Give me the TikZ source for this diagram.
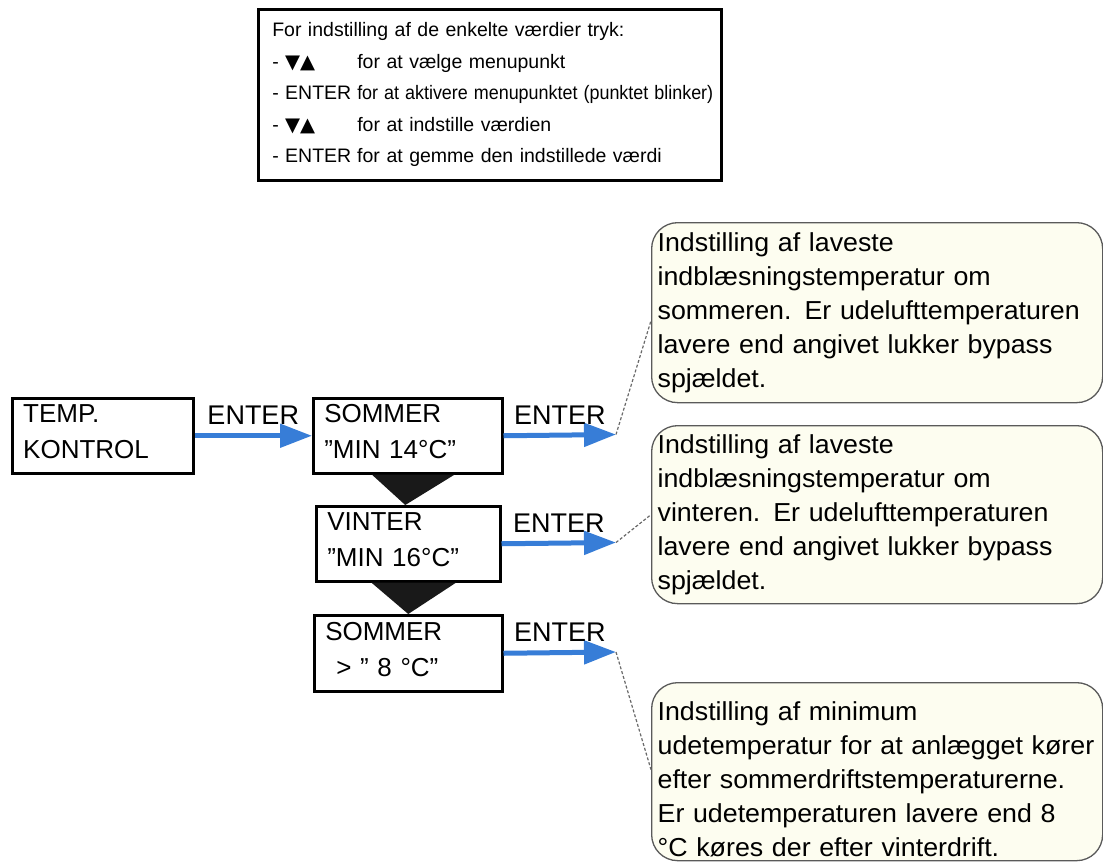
\documentclass[tikz,border=0pt]{standalone}
\usepackage{graphicx}
\usepackage{fontspec}
\setmainfont{Liberation Sans}
\newfontfamily\callfont[FakeStretch=1.03]{Liberation Sans}
\newfontfamily\symfont{DejaVu Sans}
\usetikzlibrary{arrows.meta}
\definecolor{arrblue}{RGB}{55,125,215}
\definecolor{callfill}{RGB}{253,253,240}
\definecolor{callline}{RGB}{90,90,90}
\definecolor{leadgray}{RGB}{105,105,105}
\newcommand{\lowfix}{\rule[-8pt]{0pt}{8pt}}
\begin{document}
\begin{tikzpicture}[x=1pt,y=-1pt,
  menubox/.style={draw=black, line width=2.5pt, fill=white, anchor=north west,
    align=left, inner xsep=11pt, inner ysep=0pt, minimum height=75pt,
    font=\fontsize{26}{36}\selectfont},
  infobox/.style={draw=black, line width=2.5pt, fill=white, anchor=north west,
    align=left, inner xsep=14pt, inner ysep=0pt,
    font=\fontsize{19.5}{31.5}\selectfont},
  callout/.style={draw=callline, line width=1.3pt, fill=callfill, rounded corners=26pt,
    anchor=north west, align=left, inner xsep=6pt, inner ysep=0pt,
    font=\callfont\fontsize{26}{34}\selectfont},
  flow/.style={draw=arrblue, line width=5pt, -{Triangle[length=32pt,width=23pt]}},
  enterlbl/.style={anchor=base, yshift=11pt, font=\fontsize{27}{30}\selectfont, text=black},
  leader/.style={draw=leadgray, line width=1.2pt, dash pattern=on 3pt off 2pt},
  nexttri/.style={fill=black!90}
]
\useasboundingbox (0,0) rectangle (1103,863);

% instruction box
\node[infobox, minimum width=463pt, minimum height=171pt, text width=435pt] (info) at (257,8)
 {\mbox{For indstilling af de enkelte værdier tryk:}\\
  \mbox{\makebox[85pt][l]{- {\symfont ▼▲}}for at vælge menupunkt}\\
  \mbox{\makebox[85pt][l]{- ENTER}\scalebox{0.92}[1]{for at aktivere menupunktet (punktet blinker)}}\\
  \mbox{\makebox[85pt][l]{- {\symfont ▼▲}}for at indstille værdien}\\
  \mbox{\makebox[85pt][l]{- ENTER}for at gemme den indstillede værdi}};

% menu boxes
\node[menubox, minimum width=181pt, text width=159pt] (temp) at (11,397) {TEMP.\\KONTROL\lowfix};
\node[menubox, minimum width=189pt, text width=167pt] (som1) at (312,397) {SOMMER\\”MIN 14°C”\lowfix};
\node[menubox, minimum width=184pt, text width=162pt] (vin) at (315,505) {VINTER\\”MIN 16°C”\lowfix};
\node[menubox, minimum width=188pt, minimum height=76pt, text width=166pt] (som2) at (313,614) {SOMMER\\\hspace*{11pt}> ” 8 °C”\lowfix};

% callouts
\node[callout, minimum width=451pt, minimum height=180pt, text width=439pt] (c1) at (651,222)
 {Indstilling af laveste\\
  indblæsningstemperatur om\\
  \mbox{sommeren. Er udelufttemperaturen}\\
  \mbox{lavere end angivet lukker bypass}\\
  spjældet.};
\node[callout, minimum width=451pt, minimum height=178pt, text width=439pt] (c2) at (651,425)
 {Indstilling af laveste\\
  indblæsningstemperatur om\\
  \mbox{vinteren. Er udelufttemperaturen}\\
  \mbox{lavere end angivet lukker bypass}\\
  spjældet.};
\node[callout, minimum width=451pt, minimum height=178pt, text width=439pt] (c3) at (651,682)
 {\rule{0pt}{35pt}Indstilling af minimum\\
  \mbox{udetemperatur for at anlægget kører}\\
  \mbox{efter sommerdriftstemperaturerne.}\\
  \mbox{Er udetemperaturen lavere end 8}\\
  °C køres der efter vinterdrift.};

% arrow tips
\coordinate (t1) at (616,434.5);
\coordinate (t2) at (616,542.5);
\coordinate (t3) at (616,652);

% flow arrows
\draw[flow] (temp.east) -- node[enterlbl]{ENTER} (som1.west);
\draw[flow] (som1.east) -- node[enterlbl]{ENTER} (t1);
\draw[flow] (vin.east) -- node[enterlbl]{ENTER} (t2);
\draw[flow] (som2.east) -- node[enterlbl]{ENTER} (t3);

% leaders
\draw[leader] (t1) -- ([yshift=-8pt]c1.west);
\draw[leader] (t2) -- (c2.west);
\draw[leader] (t3) -- ([yshift=2pt]c3.west);

% next triangles
\fill[nexttri] ([xshift=-36pt]som1.south) -- ([xshift=47pt]som1.south) -- ([xshift=-3pt]vin.north) -- cycle;
\fill[nexttri] ([xshift=-37pt]vin.south) -- ([xshift=48pt]vin.south) -- ([xshift=0pt]som2.north) -- cycle;
\end{tikzpicture}
\end{document}
